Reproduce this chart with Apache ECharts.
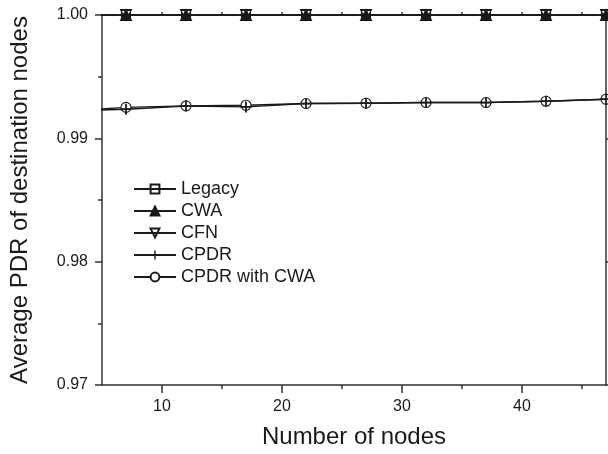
<!DOCTYPE html>
<html>
<head>
<meta charset="utf-8">
<script src="https://cdn.jsdelivr.net/npm/echarts@6/dist/echarts.min.js"></script>
<style>
  html, body { margin: 0; padding: 0; background: #fff; }
  #chart { width: 608px; height: 454px; }
</style>
</head>
<body>
<div id="chart"></div>
<script>
// number of nodes (first point lies left of the visible axis range)
const xNodes = [2, 7, 12, 17, 22, 27, 32, 37, 42, 47];
const legacy = [1.0, 1.0, 1.0, 1.0, 1.0, 1.0, 1.0, 1.0, 1.0, 1.0];
const cwa = [1.0, 1.0, 1.0, 1.0, 1.0, 1.0, 1.0, 1.0, 1.0, 1.0];
const cfn = [1.0, 1.0, 1.0, 1.0, 1.0, 1.0, 1.0, 1.0, 1.0, 1.0];
const cpdr = [0.9922, 0.99236, 0.99262, 0.99255, 0.99282, 0.99285, 0.99290, 0.99290, 0.99301, 0.99317];
const cpdrCwa = [0.9922, 0.99251, 0.99263, 0.99268, 0.99282, 0.99285, 0.99290, 0.99290, 0.99301, 0.99317];
const xMajor = [10, 20, 30, 40];
const xMinor = [15, 25, 35, 45];
const xTop = [10, 15, 20, 25, 30, 35, 40, 45];

const ink = '#1a1a1a';
const axisCol = '#333';
const font = 'Liberation Sans, Arial, Helvetica, sans-serif';
const plus = 'path://M4.2,0H5.8V10H4.2Z M0,4.2H10V5.8H0Z';

function pairs(vals) {
  return xNodes.map((x, i) => [x, vals[i]]);
}

function lineSeries(name, vals, symbol, fill, extra) {
  return Object.assign({
    name: name,
    type: 'line',
    data: pairs(vals),
    symbol: symbol,
    symbolSize: 10,
    showAllSymbol: true,
    clip: true,
    lineStyle: { color: ink, width: 1.4 },
    itemStyle: { color: fill, borderColor: ink, borderWidth: 1.1 },
    emphasis: { disabled: true },
    animation: false
  }, extra || {});
}

const chart = echarts.init(document.getElementById('chart'));
chart.setOption({
  backgroundColor: '#fff',
  animation: false,
  grid: [
    { left: 102, right: 2, top: 15, bottom: 69 },
    { left: 102, right: 2, top: 15, bottom: 69 }
  ],
  legend: {
    orient: 'vertical',
    left: 128,
    top: 175,
    itemWidth: 42,
    itemHeight: 11,
    itemGap: 4,
    textStyle: { fontFamily: font, fontSize: 18, color: ink },
    data: ['Legacy', 'CWA', 'CFN', 'CPDR', 'CPDR with CWA']
  },
  xAxis: [
    {
      type: 'value', gridIndex: 0, position: 'bottom',
      min: 5, max: 47,
      name: 'Number of nodes', nameLocation: 'middle', nameGap: 40,
      nameTextStyle: { fontFamily: font, fontSize: 24, color: ink },
      axisLine: { lineStyle: { color: axisCol, width: 1.5 } },
      axisTick: { customValues: xMajor, length: 8, lineStyle: { color: axisCol, width: 1.5 } },
      axisLabel: { customValues: xMajor, margin: 14, fontFamily: font, fontSize: 16, color: ink },
      splitLine: { show: false }
    },
    {
      type: 'value', gridIndex: 0, position: 'top',
      min: 5, max: 47,
      axisLine: { lineStyle: { color: axisCol, width: 1.5 } },
      axisTick: { customValues: xTop, length: 3, lineStyle: { color: axisCol, width: 1.5 } },
      axisLabel: { show: false },
      splitLine: { show: false }
    },
    {
      type: 'value', gridIndex: 1, position: 'bottom',
      min: 5, max: 47,
      axisLine: { show: false },
      axisTick: { customValues: xMinor, length: 4, lineStyle: { color: axisCol, width: 1.5 } },
      axisLabel: { show: false },
      splitLine: { show: false }
    }
  ],
  yAxis: [
    {
      type: 'value', gridIndex: 0, position: 'left',
      min: 0.97, max: 1.0, interval: 0.01,
      name: 'Average PDR of destination nodes', nameLocation: 'middle', nameGap: 70,
      nameTextStyle: { fontFamily: font, fontSize: 24, color: ink },
      axisLine: { show: true, lineStyle: { color: axisCol, width: 1.5 } },
      axisTick: { show: true, length: 7, lineStyle: { color: axisCol, width: 1.5 } },
      minorTick: { show: true, splitNumber: 2, length: 4, lineStyle: { color: axisCol, width: 1.5 } },
      axisLabel: {
        margin: 14, fontFamily: font, fontSize: 16, color: ink,
        formatter: v => v.toFixed(2)
      },
      splitLine: { show: false }
    },
    {
      type: 'value', gridIndex: 0, position: 'right',
      min: 0.97, max: 1.0, interval: 0.01,
      axisLine: { show: true, lineStyle: { color: axisCol, width: 1.5 } },
      axisTick: { show: true, length: 3, lineStyle: { color: axisCol, width: 1.5 } },
      axisLabel: { show: false },
      splitLine: { show: false }
    },
    {
      type: 'value', gridIndex: 1, min: 0.97, max: 1.0, show: false
    }
  ],
  series: [
    lineSeries('Legacy', legacy, 'rect', 'rgba(255,255,255,0)', { symbolSize: 9 }),
    lineSeries('CWA', cwa, 'triangle', ink, { symbolSize: 11 }),
    lineSeries('CFN', cfn, 'triangle', 'rgba(255,255,255,0)', { symbolSize: 11, symbolRotate: 180 }),
    lineSeries('CPDR', cpdr, plus, ink, { symbolSize: 11, z: 4, itemStyle: { color: ink, borderWidth: 0 } }),
    lineSeries('CPDR with CWA', cpdrCwa, 'circle', '#fff', { symbolSize: 10, z: 3 })
  ]
});
</script>
</body>
</html>
